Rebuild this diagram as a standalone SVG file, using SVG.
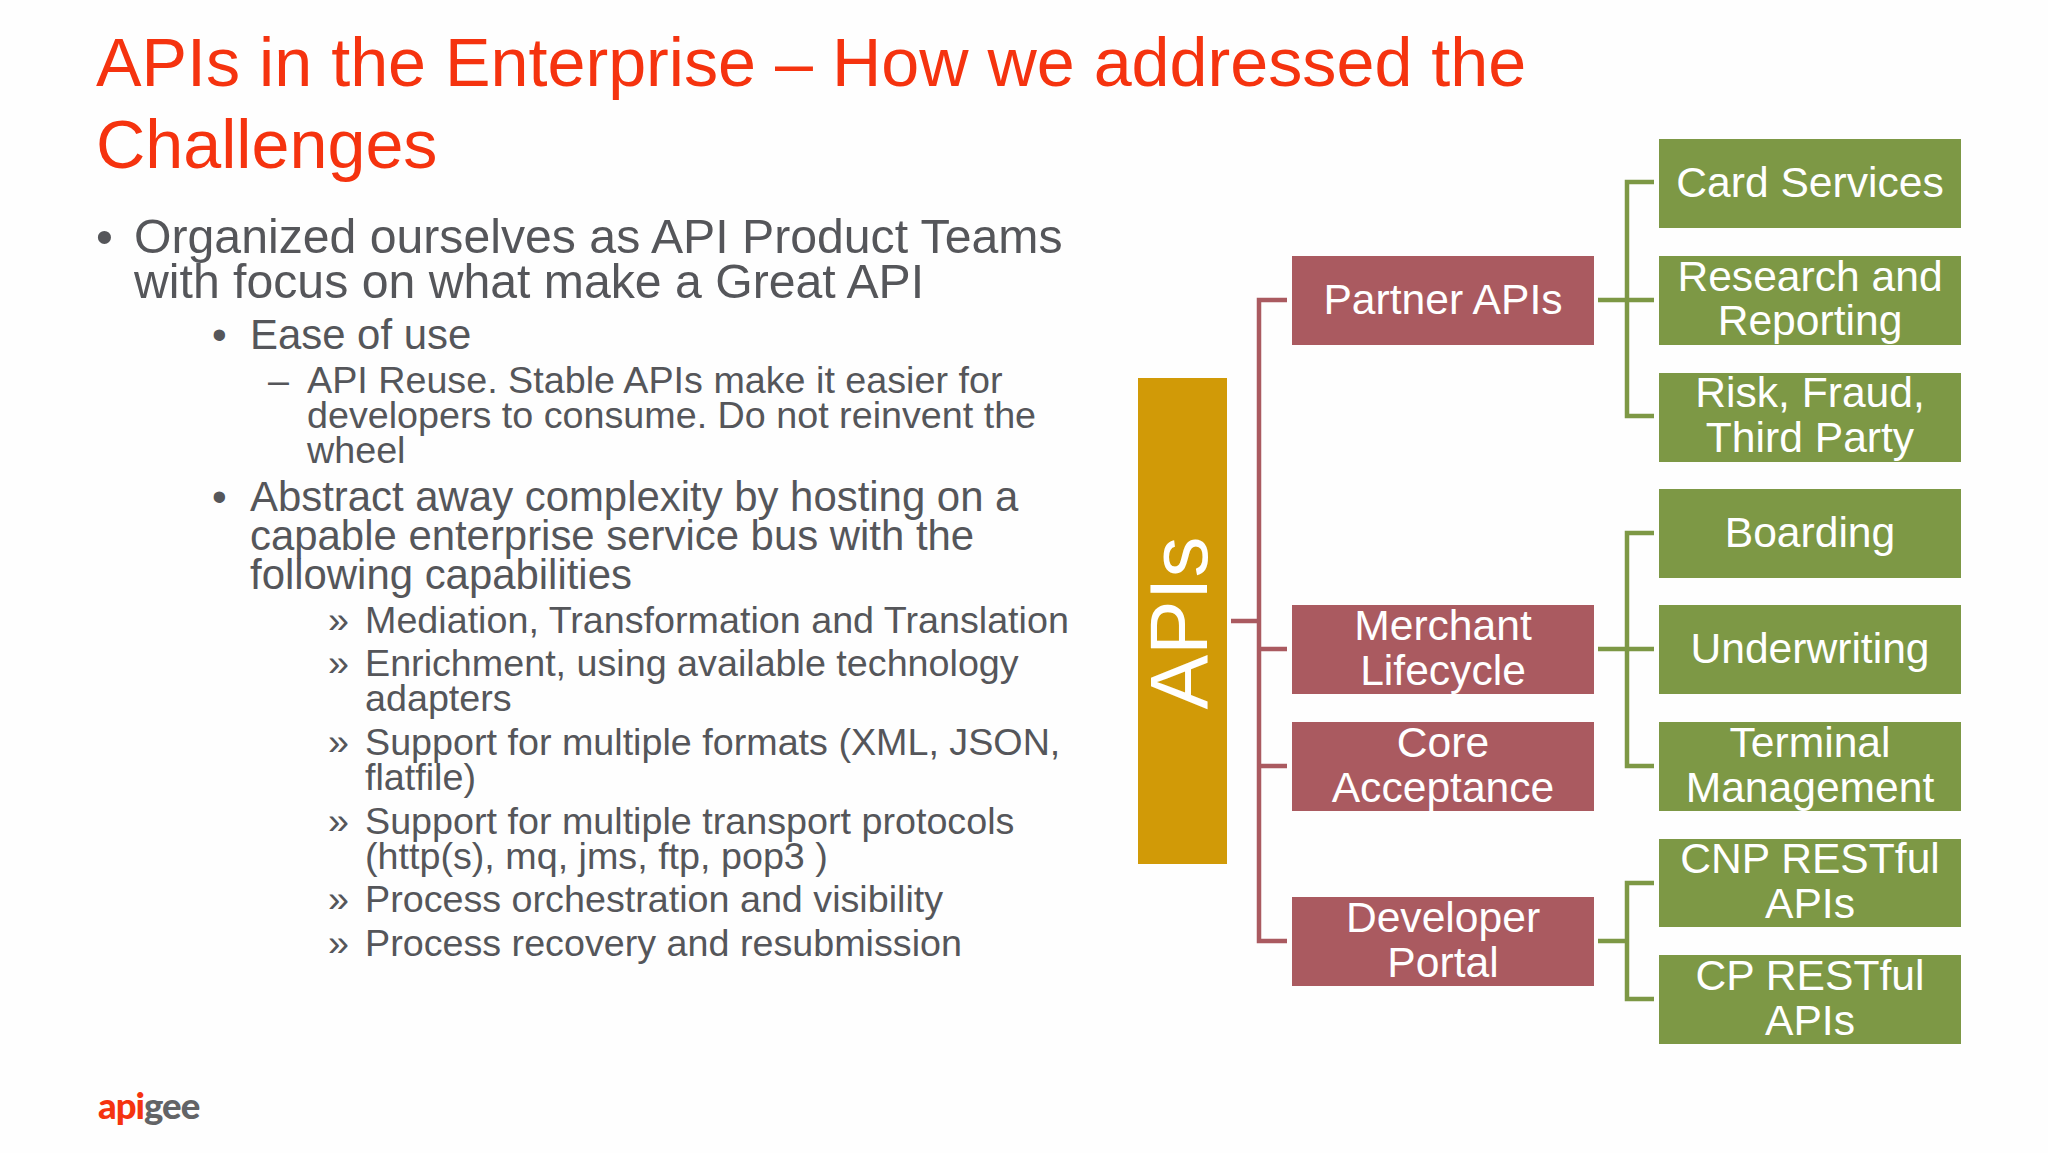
<svg xmlns="http://www.w3.org/2000/svg" width="2048" height="1153" viewBox="0 0 2048 1153">
<style>
text{font-family:"Liberation Sans",Arial,sans-serif}
.title{font-size:68.25px;fill:#f5330f}
.b{fill:#55565a}
.l1{font-size:48.2px}.l2{font-size:41.9px}.l3{font-size:37.7px}
.n{font-size:42.6px;fill:#fff;text-anchor:middle}
.red{fill:#aa5a60}.green{fill:#7d9845}
.cr,.cg{fill:none;stroke-width:4.5}
.cr{stroke:#aa5a60}.cg{stroke:#7d9845}
</style>
<rect width="2048" height="1153" fill="#fefefe"/>
<g id="title">
<text class="title" x="96" y="86">APIs in the Enterprise – How we addressed the</text>
<text class="title" x="96" y="168">Challenges</text>
</g>
<g id="body" class="b">
<text class="b l1" x="96" y="253">•</text>
<text class="b l1" x="134" y="253">Organized ourselves as API Product Teams</text>
<text class="b l1" x="134" y="298">with focus on what make a Great API</text>
<text class="b l2" x="212" y="349">•</text>
<text class="b l2" x="250" y="349">Ease of use</text>
<text class="b l3" x="268" y="393">–</text>
<text class="b l3" x="307" y="393">API Reuse. Stable APIs make it easier for</text>
<text class="b l3" x="307" y="428">developers to consume. Do not reinvent the</text>
<text class="b l3" x="307" y="463">wheel</text>
<text class="b l2" x="212" y="511">•</text>
<text class="b l2" x="250" y="511">Abstract away complexity by hosting on a</text>
<text class="b l2" x="250" y="550">capable enterprise service bus with the</text>
<text class="b l2" x="250" y="589">following capabilities</text>
<text class="b l3" x="328" y="633">»</text><text class="b l3" x="365" y="633">Mediation, Transformation and Translation</text>
<text class="b l3" x="328" y="676">»</text><text class="b l3" x="365" y="676">Enrichment, using available technology</text>
<text class="b l3" x="365" y="711">adapters</text>
<text class="b l3" x="328" y="755">»</text><text class="b l3" x="365" y="755">Support for multiple formats (XML, JSON,</text>
<text class="b l3" x="365" y="790">flatfile)</text>
<text class="b l3" x="328" y="834">»</text><text class="b l3" x="365" y="834">Support for multiple transport protocols</text>
<text class="b l3" x="365" y="869">(http(s), mq, jms, ftp, pop3 )</text>
<text class="b l3" x="328" y="912">»</text><text class="b l3" x="365" y="912">Process orchestration and visibility</text>
<text class="b l3" x="328" y="956">»</text><text class="b l3" x="365" y="956">Process recovery and resubmission</text>
</g>
<g id="connectors">
<path class="cr" d="M1231 621H1259M1287 300H1259V941H1287M1259 649H1287M1259 766H1287"/>
<path class="cg" d="M1598 300H1654M1654 182H1627V416H1654"/>
<path class="cg" d="M1598 649H1654M1654 533H1627V766H1654"/>
<path class="cg" d="M1598 941H1627M1654 883H1627V999H1654"/>
</g>
<g id="apis"><rect x="1138" y="378" width="89" height="486" fill="#d19a07"/><text transform="translate(1207 623) rotate(-90)" font-size="82" fill="#fff" text-anchor="middle">APIs</text></g>
<g id="partner"><rect class="red" x="1292" y="256" width="302" height="89"/><text class="n" x="1443" y="314">Partner APIs</text></g>
<g id="merchant"><rect class="red" x="1292" y="605" width="302" height="89"/><text class="n" x="1443" y="640">Merchant</text><text class="n" x="1443" y="685">Lifecycle</text></g>
<g id="core"><rect class="red" x="1292" y="722" width="302" height="89"/><text class="n" x="1443" y="757">Core</text><text class="n" x="1443" y="802">Acceptance</text></g>
<g id="developer"><rect class="red" x="1292" y="897" width="302" height="89"/><text class="n" x="1443" y="932">Developer</text><text class="n" x="1443" y="977">Portal</text></g>
<g id="card"><rect class="green" x="1659" y="139" width="302" height="89"/><text class="n" x="1810" y="197">Card Services</text></g>
<g id="research"><rect class="green" x="1659" y="256" width="302" height="89"/><text class="n" x="1810" y="291">Research and</text><text class="n" x="1810" y="335">Reporting</text></g>
<g id="risk"><rect class="green" x="1659" y="373" width="302" height="89"/><text class="n" x="1810" y="407">Risk, Fraud,</text><text class="n" x="1810" y="452">Third Party</text></g>
<g id="boarding"><rect class="green" x="1659" y="489" width="302" height="89"/><text class="n" x="1810" y="547">Boarding</text></g>
<g id="underwriting"><rect class="green" x="1659" y="605" width="302" height="89"/><text class="n" x="1810" y="663">Underwriting</text></g>
<g id="terminal"><rect class="green" x="1659" y="722" width="302" height="89"/><text class="n" x="1810" y="757">Terminal</text><text class="n" x="1810" y="802">Management</text></g>
<g id="cnp"><rect class="green" x="1659" y="839" width="302" height="88"/><text class="n" x="1810" y="873">CNP RESTful</text><text class="n" x="1810" y="918">APIs</text></g>
<g id="cp"><rect class="green" x="1659" y="955" width="302" height="89"/><text class="n" x="1810" y="990">CP RESTful</text><text class="n" x="1810" y="1035">APIs</text></g>
<g id="logo"><text x="98" y="1119" style="font-family:Lato,sans-serif" font-size="36.5" font-weight="900" letter-spacing="-1" fill="#f5330f">api<tspan fill="#636466">gee</tspan></text></g>
</svg>
